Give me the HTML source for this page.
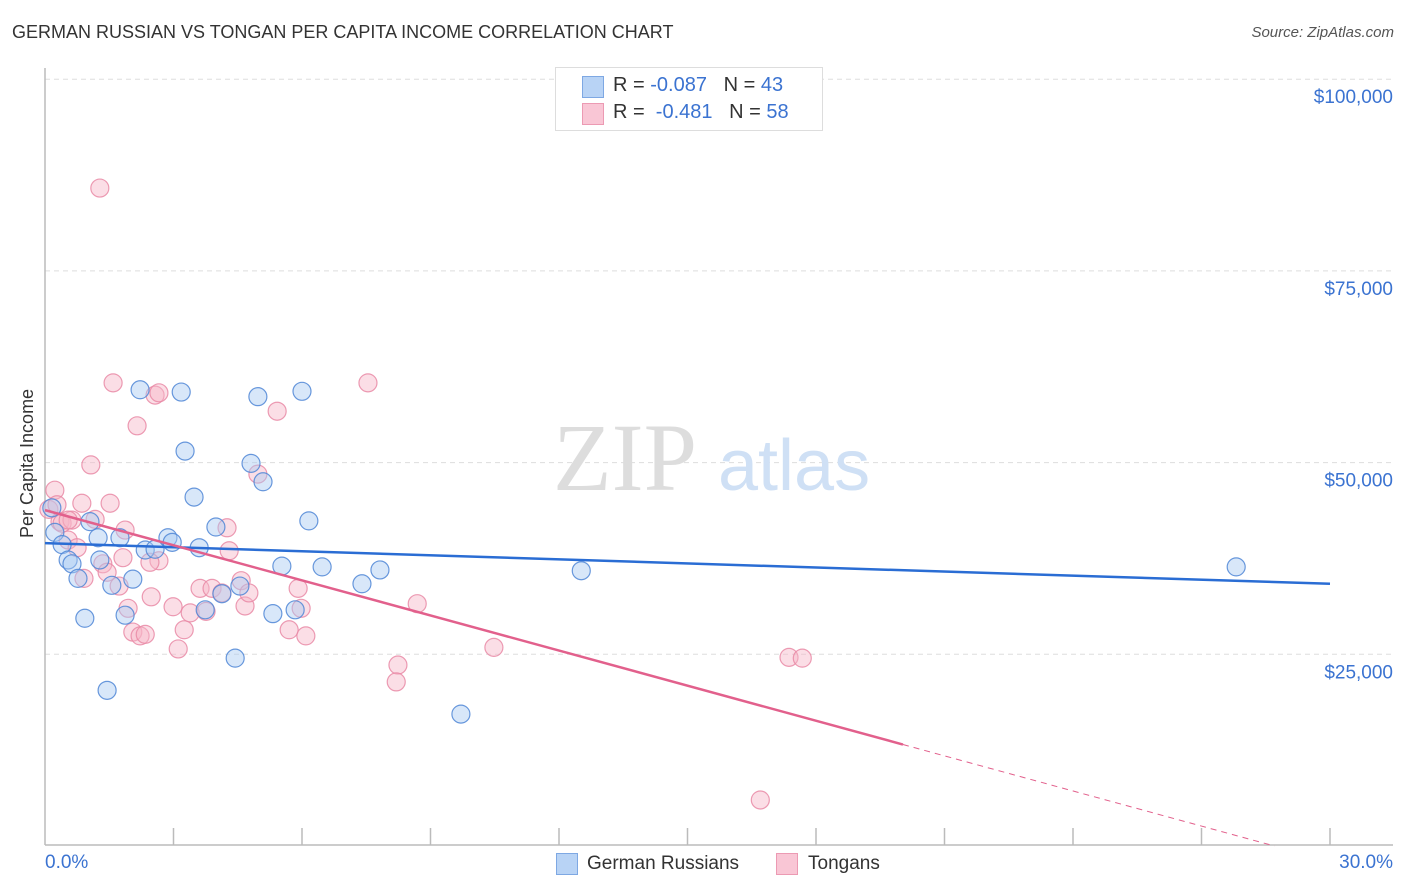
<!DOCTYPE html>
<html><head><meta charset="utf-8">
<style>
body{margin:0;background:#fff;font-family:"Liberation Sans",sans-serif;}
#wrap{position:relative;width:1406px;height:892px;overflow:hidden;}
.t{position:absolute;white-space:nowrap;}
</style></head>
<body>
<div id="wrap">
<div class="t" style="left:12px;top:22px;font-size:18px;color:#333;">GERMAN RUSSIAN VS TONGAN PER CAPITA INCOME CORRELATION CHART</div>
<div class="t" style="right:12px;top:24px;font-size:15px;color:#555;font-style:italic;">Source: ZipAtlas.com</div>
<svg id="svg" width="1406" height="892" style="position:absolute;left:0;top:0"></svg>
</div>
<script>
const blueX=[0.16,0.23,0.40,0.54,0.63,0.77,0.93,1.05,1.24,1.28,1.45,1.56,1.75,1.87,2.05,2.22,2.34,2.57,2.87,2.97,3.18,3.27,3.48,3.60,3.74,3.99,4.13,4.44,4.55,4.81,4.97,5.09,5.32,5.53,5.84,6.00,6.16,6.47,7.40,7.82,9.71,12.52,27.81];
const blueY=[44.1,40.9,39.3,37.3,36.8,34.9,29.7,42.3,40.2,37.3,20.3,34.0,40.2,30.1,34.8,59.5,38.6,38.7,40.2,39.6,59.2,51.5,45.5,38.9,30.8,41.6,32.9,24.5,33.9,49.9,58.6,47.5,30.3,36.5,30.8,59.3,42.4,36.4,34.2,36.0,17.2,35.9,36.4];
const pinkX=[0.09,0.23,0.28,0.35,0.40,0.54,0.63,0.75,0.86,0.91,1.07,1.17,1.28,1.35,1.45,1.52,1.59,1.73,1.82,1.87,1.94,2.05,2.15,2.22,2.34,2.48,2.57,2.66,2.66,2.99,3.11,3.25,3.39,3.62,3.76,3.90,4.13,4.25,4.30,4.58,4.67,4.76,4.97,5.42,5.70,5.91,5.98,6.09,7.54,8.24,8.20,8.69,10.48,16.70,17.37,17.68,0.54,2.45];
const pinkY=[43.9,46.4,44.5,42.3,42.1,39.9,42.5,38.9,44.7,34.9,49.7,42.6,85.8,36.8,35.7,44.7,60.4,33.9,37.6,41.2,31.0,27.9,54.8,27.4,27.6,32.5,58.8,59.1,37.2,31.2,25.7,28.2,30.4,33.6,30.6,33.6,33.0,41.5,38.5,34.6,31.3,33.0,48.5,56.7,28.2,33.6,31.0,27.4,60.4,23.6,21.4,31.6,25.9,6.0,24.6,24.5,42.5,37.0];
const yTicks=[25,50,75,100];
const yTickLabels=["$25,000","$50,000","$75,000","$100,000"];
const blueTrend=[39.5,34.2];   // value at 0%, at 30%
const pinkTrend=[43.8,-1.526]; // intercept, slope per %
const pinkSolidEnd=20.03;

const X=p=>45+p/30*1285;
const Y=k=>846-k/25*191.7;
const svg=document.getElementById('svg');
const NS='http://www.w3.org/2000/svg';
function mk(tag,a,parent){const e=document.createElementNS(NS,tag);for(const k in a)e.setAttribute(k,a[k]);(parent||svg).appendChild(e);return e;}

// grid
yTicks.forEach((v,i)=>{
  const g=mk('line',{x1:45,x2:1393,y1:Y(v),y2:Y(v),stroke:'#ddd','stroke-dasharray':'5,4'});
  
  
  const t=mk('text',{x:1393,y:Y(v)+24,'text-anchor':'end','font-size':19,fill:'#3b73d1','font-family':'Liberation Sans, sans-serif'});
  t.textContent=yTickLabels[i];
  
  
});
mk('line',{x1:45,x2:45,y1:68,y2:845,stroke:'#bbb','stroke-width':1.5});
mk('line',{x1:45,x2:1393,y1:845,y2:845,stroke:'#bbb','stroke-width':1.5});
for(let i=1;i<=10;i++){mk('line',{x1:X(i*3),x2:X(i*3),y1:828,y2:845,stroke:'#bbb','stroke-width':1.5});}

// watermark
let w=mk('text',{x:553,y:490,'font-size':96,fill:'#ddd','font-family':'Liberation Serif, serif'});w.textContent='ZIP';

w=mk('text',{x:718,y:490,'font-size':72,fill:'#cfe0f5','font-family':'Liberation Sans, sans-serif'});w.textContent='atlas';


// points
function pts(xs,ys,fill,stroke,name){
  xs.forEach((x,i)=>{
    const c=mk('circle',{cx:X(x),cy:Y(ys[i]),r:9,fill:fill,'fill-opacity':0.45,stroke:stroke,'stroke-width':1.2,'stroke-opacity':0.85});
    
    
  });
}
pts(pinkX,pinkY,'#f7b6c8','#e98aa6','tongan-point');
pts(blueX,blueY,'#a9c9f1','#4f86d6','german-russian-point');

// trend lines
let l=mk('line',{x1:X(0),y1:Y(blueTrend[0]),x2:X(30),y2:Y(blueTrend[1]),stroke:'#2a6dd4','stroke-width':2.5});

const pv=x=>pinkTrend[0]+pinkTrend[1]*x;
l=mk('line',{x1:X(0),y1:Y(pv(0)),x2:X(pinkSolidEnd),y2:Y(pv(pinkSolidEnd)),stroke:'#e2608c','stroke-width':2.5});

const zx=-pinkTrend[0]/pinkTrend[1];const endX=Math.min(30,zx);
l=mk('line',{x1:X(pinkSolidEnd),y1:Y(pv(pinkSolidEnd)),x2:X(endX),y2:Y(pv(endX)),stroke:'#e2608c','stroke-width':1,'stroke-dasharray':'6,5'});

</script>
<div class="t" style="left:17px;top:380px;width:24px;height:160px;"><div style="transform:rotate(-90deg);transform-origin:0 0;position:absolute;left:0;top:158px;font-size:18px;color:#333;">Per Capita Income</div></div>
<div class="t" style="left:45px;top:852px;font-size:19px;color:#3b73d1;">0.0%</div>
<div class="t" style="right:13px;top:852px;font-size:19px;color:#3b73d1;">30.0%</div>
<div class="t" style="left:555px;top:67px;width:266px;height:62px;border:1px solid #ddd;background:#fff;">
  <div style="position:absolute;left:26px;top:8px;width:20px;height:20px;background:#b8d3f5;border:1px solid #7ea8e3;"></div>
  <div style="position:absolute;left:57px;top:6px;font-size:20px;color:#333;">R = <span style="color:#3b73d1">-0.087</span>&nbsp;&nbsp;&nbsp;N = <span style="color:#3b73d1">43</span></div>
  <div style="position:absolute;left:26px;top:35px;width:20px;height:20px;background:#f9c6d5;border:1px solid #ec9ab3;"></div>
  <div style="position:absolute;left:57px;top:33px;font-size:20px;color:#333;">R = &nbsp;<span style="color:#3b73d1">-0.481</span>&nbsp;&nbsp;&nbsp;N = <span style="color:#3b73d1">58</span></div>
</div>
<div class="t" style="left:556px;top:853px;width:20px;height:20px;background:#b8d3f5;border:1px solid #7ea8e3;"></div>
<div class="t" style="left:587px;top:853px;font-size:19px;color:#333;">German Russians</div>
<div class="t" style="left:776px;top:853px;width:20px;height:20px;background:#f9c6d5;border:1px solid #ec9ab3;"></div>
<div class="t" style="left:808px;top:853px;font-size:19px;color:#333;">Tongans</div>
</body></html>
